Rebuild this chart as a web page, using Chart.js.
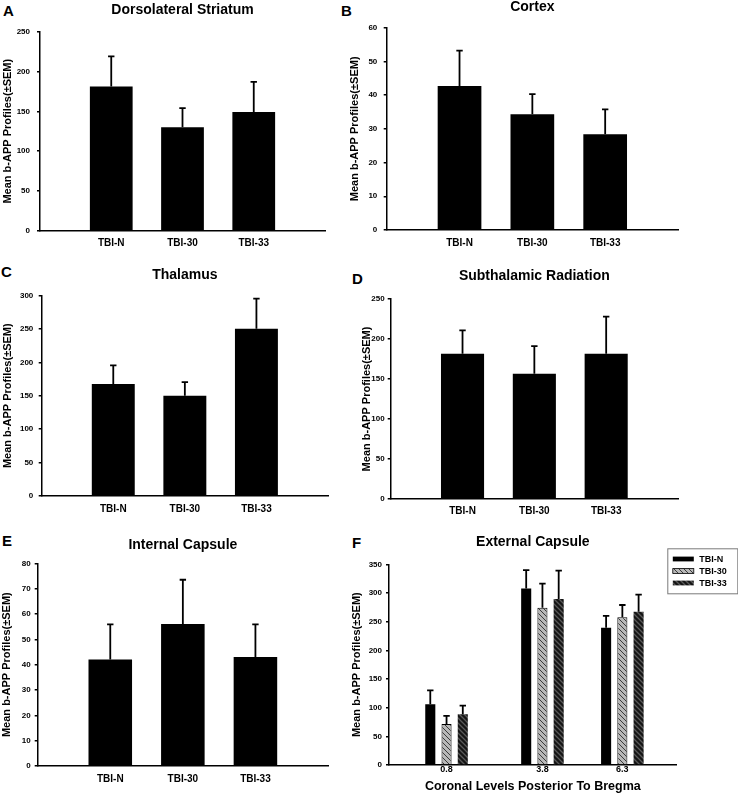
<!DOCTYPE html>
<html><head><meta charset="utf-8">
<script src="https://cdn.jsdelivr.net/npm/chart.js@4.4.0/dist/chart.umd.min.js"></script>
<style>
html,body{margin:0;padding:0;background:#fff;}
body{width:738px;height:793px;position:relative;overflow:hidden;font-family:"Liberation Sans",Arial,sans-serif;}
canvas{position:absolute;}
.letter{position:absolute;font:bold 15px "Liberation Sans",Arial,sans-serif;line-height:1;color:#000;}
</style></head><body>
<div class="letter" style="left:3px;top:3px">A</div>
<div class="letter" style="left:341px;top:3px">B</div>
<div class="letter" style="left:1px;top:264px">C</div>
<div class="letter" style="left:352px;top:271px">D</div>
<div class="letter" style="left:2px;top:533px">E</div>
<div class="letter" style="left:352px;top:535px">F</div>
<canvas id="cA"></canvas><canvas id="cB"></canvas>
<canvas id="cC"></canvas><canvas id="cD"></canvas>
<canvas id="cE"></canvas><canvas id="cF"></canvas>
<script>
// ---------- data ----------
const groups = ['TBI-N', 'TBI-30', 'TBI-33'];
const yTitle = 'Mean b-APP Profiles(±SEM)';

const striatumMean = [181, 130, 149];
const striatumSem  = [38, 24, 38];
const striatumTicks = [0, 50, 100, 150, 200, 250];

const cortexMean = [42.7, 34.3, 28.4];
const cortexSem  = [10.5, 6.0, 7.4];
const cortexTicks = [0, 10, 20, 30, 40, 50, 60];

const thalamusMean = [167.5, 150, 250.5];
const thalamusSem  = [28, 20.5, 45];
const thalamusTicks = [0, 50, 100, 150, 200, 250, 300];

const subthalMean = [181.6, 156.6, 181.6];
const subthalSem  = [29.3, 34.4, 46.4];
const subthalTicks = [0, 50, 100, 150, 200, 250];

const internalMean = [42, 56, 43];
const internalSem  = [13.9, 17.5, 12.9];
const internalTicks = [0, 10, 20, 30, 40, 50, 60, 70, 80];

const coronalLevels = [0.8, 3.8, 6.3];
const coronalLabels = ['0.8', '3.8', '6.3'];
const extTBIN  = [106, 308, 239.5];
const extTBINSem = [24.3, 32, 20.5];
const extTBI30 = [71.5, 274.4, 257.6];
const extTBI30Sem = [14, 42, 21.4];
const extTBI33 = [88.4, 289.5, 267.4];
const extTBI33Sem = [15.1, 49.5, 29.6];
const externalTicks = [0, 50, 100, 150, 200, 250, 300, 350];

// ---------- helpers ----------
const FAM = '"Liberation Sans", Arial, sans-serif';

const errorBars = {
  id: 'errorBars',
  afterDatasetsDraw(chart) {
    const ctx = chart.ctx, ys = chart.scales.y;
    chart.data.datasets.forEach((ds, di) => {
      if (!ds.errors) return;
      const meta = chart.getDatasetMeta(di);
      meta.data.forEach((bar, i) => {
        const e = ds.errors[i];
        const raw = ds.data[i];
        if (e == null || raw == null) return;
        const v = typeof raw === 'object' ? raw.y : raw;
        const top = ys.getPixelForValue(v + e);
        ctx.save();
        ctx.strokeStyle = '#000';
        ctx.lineWidth = 1.8;
        ctx.beginPath();
        ctx.moveTo(bar.x, bar.y);
        ctx.lineTo(bar.x, top);
        ctx.moveTo(bar.x - 3.2, top);
        ctx.lineTo(bar.x + 3.2, top);
        ctx.stroke();
        ctx.restore();
      });
    });
  }
};

function place(id, s) {
  const c = document.getElementById(id);
  c.width = s.cw; c.height = s.ch;
  c.style.left = s.cl + 'px'; c.style.top = s.ct + 'px';
  return c;
}

function yScale(s, ticks) {
  return {
    min: 0, max: ticks[ticks.length - 1],
    afterBuildTicks(sc) { sc.ticks = ticks.map(v => ({ value: v })); },
    ticks: { color: '#000', font: { family: FAM, size: 8, weight: 'bold' }, padding: s.yPad },
    grid: { drawOnChartArea: false, drawTicks: true, tickLength: 3, color: '#000', lineWidth: 1.5 },
    border: { display: true, color: '#000', width: 1.5 },
    title: { display: true, text: yTitle, color: '#000',
             font: { family: FAM, size: 11, weight: 'bold', lineHeight: 1.2 },
             padding: { top: s.ytPad, bottom: 0 } },
    afterFit(sc) { sc.width = s.xL - s.cl; }
  };
}

function titleOpt(s, text) {
  const tTop = Math.max(0, s.tCY - s.ct - 7);
  return { display: true, text: text, fullSize: false, color: '#000',
           font: { family: FAM, size: 14, weight: 'bold', lineHeight: 1 },
           padding: { top: tTop, bottom: s.yT - s.ct - tTop - 14 } };
}

function barPanel(id, s, title, means, sems, ticks) {
  const c = place(id, s);
  new Chart(c, {
    type: 'bar',
    data: {
      labels: ['', ...groups, ''],
      datasets: [{
        data: [null, ...means, null],
        errors: [null, ...sems, null],
        backgroundColor: '#000', borderWidth: 0,
        categoryPercentage: 0.6, barPercentage: 1
      }]
    },
    options: {
      responsive: false, animation: false,
      layout: { padding: { left: 0, right: s.cl + s.cw - s.xR, top: 0, bottom: 0 } },
      plugins: { legend: { display: false }, tooltip: { enabled: false }, title: titleOpt(s, title) },
      scales: {
        x: {
          offset: false,
          grid: { display: false, drawTicks: false },
          border: { display: true, color: '#000', width: 1.5 },
          ticks: { color: '#000', font: { family: FAM, size: 10, weight: 'bold', lineHeight: 1.2 },
                   padding: s.xCY - s.yB - 6, autoSkip: false, maxRotation: 0 },
          afterFit(sc) { sc.height = s.ct + s.ch - s.yB; }
        },
        y: yScale(s, ticks)
      }
    },
    plugins: [errorBars]
  });
}

// ---------- panels A-E ----------
barPanel('cA', { cl: 0, ct: 0, cw: 370, ch: 256, xL: 40, xR: 325, yT: 31.7, yB: 230.7, tCY: 10, ytPad: 0.9, yPad: 7, xCY: 243 },
  'Dorsolateral Striatum', striatumMean, striatumSem, striatumTicks);
barPanel('cB', { cl: 340, ct: 0, cw: 398, ch: 255, xL: 386.7, xR: 678, yT: 27.7, yB: 230, tCY: 6.7, ytPad: 8.4, yPad: 6.4, xCY: 243 },
  'Cortex', cortexMean, cortexSem, cortexTicks);
barPanel('cC', { cl: 0, ct: 258, cw: 370, ch: 262, xL: 41.7, xR: 328, yT: 295.7, yB: 495.7, tCY: 275.3, ytPad: 0.9, yPad: 5.4, xCY: 509 },
  'Thalamus', thalamusMean, thalamusSem, thalamusTicks);
barPanel('cD', { cl: 345, ct: 258, cw: 393, ch: 265, xL: 390.7, xR: 678, yT: 299, yB: 499, tCY: 275.7, ytPad: 15.1, yPad: 3, xCY: 511 },
  'Subthalamic Radiation', subthalMean, subthalSem, subthalTicks);
barPanel('cE', { cl: 0, ct: 520, cw: 370, ch: 273, xL: 37.7, xR: 328, yT: 563.3, yB: 766, tCY: 545, ytPad: 0.1, yPad: 4, xCY: 779.2 },
  'Internal Capsule', internalMean, internalSem, internalTicks);

// ---------- panel F ----------
function hatch(bg, line, size, lw) {
  const c = document.createElement('canvas');
  c.width = c.height = size;
  const g = c.getContext('2d');
  g.fillStyle = bg; g.fillRect(0, 0, size, size);
  g.strokeStyle = line; g.lineWidth = lw;
  g.beginPath();
  g.moveTo(-1, -1); g.lineTo(size + 1, size + 1);
  g.moveTo(-2, size - 2); g.lineTo(2, size + 2);
  g.moveTo(size - 2, -2); g.lineTo(size + 2, 2);
  g.stroke();
  return g.createPattern(c, 'repeat');
}
const fillN = '#000';
const fill30 = hatch('#b8b8b8', '#3a3a3a', 5, 1);
const fill33 = hatch('#151515', '#5a5a5a', 5, 1.3);

const sF = { cl: 345, ct: 520, cw: 393, ch: 273, xL: 389, xR: 676.7, yT: 564.3, yB: 765, tCY: 541.7, ytPad: 5.1, yPad: 4 };

const boxLegend = {
  id: 'boxLegend',
  afterDraw(chart) {
    const ctx = chart.ctx;
    const bx = 667.3 - sF.cl, by = 548.3 - sF.ct, bw = 70, bh = 45;
    ctx.save();
    ctx.strokeStyle = '#7a7a7a'; ctx.lineWidth = 1;
    ctx.strokeRect(bx + 0.5, by + 0.5, bw, bh);
    const rows = [559 - sF.ct, 571 - sF.ct, 583 - sF.ct];
    chart.data.datasets.forEach((ds, i) => {
      const cy = rows[i];
      ctx.fillStyle = ds.backgroundColor;
      ctx.fillRect(bx + 5.5, cy - 2.4, 21, 4.8);
      if (ds.borderWidth) { ctx.strokeStyle = '#000'; ctx.lineWidth = 0.8; ctx.strokeRect(bx + 5.5, cy - 2.4, 21, 4.8); }
      ctx.fillStyle = '#000';
      ctx.font = 'bold 9px ' + FAM;
      ctx.textBaseline = 'middle';
      ctx.textAlign = 'left';
      ctx.fillText(ds.label, bx + 32, cy + 0.5);
    });
    ctx.restore();
  }
};

(function () {
  const c = place('cF', sF);
  const mk = (vals) => coronalLevels.map((x, i) => ({ x: x, y: vals[i] }));
  new Chart(c, {
    type: 'bar',
    data: {
      datasets: [
        { label: groups[0], data: mk(extTBIN), errors: extTBINSem, backgroundColor: fillN, borderWidth: 0 },
        { label: groups[1], data: mk(extTBI30), errors: extTBI30Sem, backgroundColor: fill30, borderColor: '#000', borderWidth: 1 },
        { label: groups[2], data: mk(extTBI33), errors: extTBI33Sem, backgroundColor: fill33, borderWidth: 0 }
      ]
    },
    options: {
      responsive: false, animation: false,
      categoryPercentage: 0.61, barPercentage: 0.62,
      layout: { padding: { left: 0, right: sF.cl + sF.cw - sF.xR, top: 0, bottom: 0 } },
      plugins: { legend: { display: false }, tooltip: { enabled: false }, title: titleOpt(sF, 'External Capsule') },
      scales: {
        x: {
          type: 'linear', min: -1, max: 8, offset: false,
          afterBuildTicks(sc) { sc.ticks = coronalLevels.map(v => ({ value: v })); },
          grid: { display: false, drawTicks: false },
          border: { display: true, color: '#000', width: 1.5 },
          ticks: { color: '#000', font: { family: FAM, size: 9, weight: 'bold', lineHeight: 1 }, padding: 0.5,
                   autoSkip: false, maxRotation: 0, callback: (v, i) => coronalLabels[i] },
          title: { display: true, text: 'Coronal Levels Posterior To Bregma', color: '#000',
                   font: { family: FAM, size: 12.5, weight: 'bold', lineHeight: 1 }, padding: { top: 0, bottom: 0 } },
          afterFit(sc) { sc.height = sF.ct + sF.ch - sF.yB; }
        },
        y: yScale(sF, externalTicks)
      }
    },
    plugins: [errorBars, boxLegend]
  });
})();
</script>
</body></html>
